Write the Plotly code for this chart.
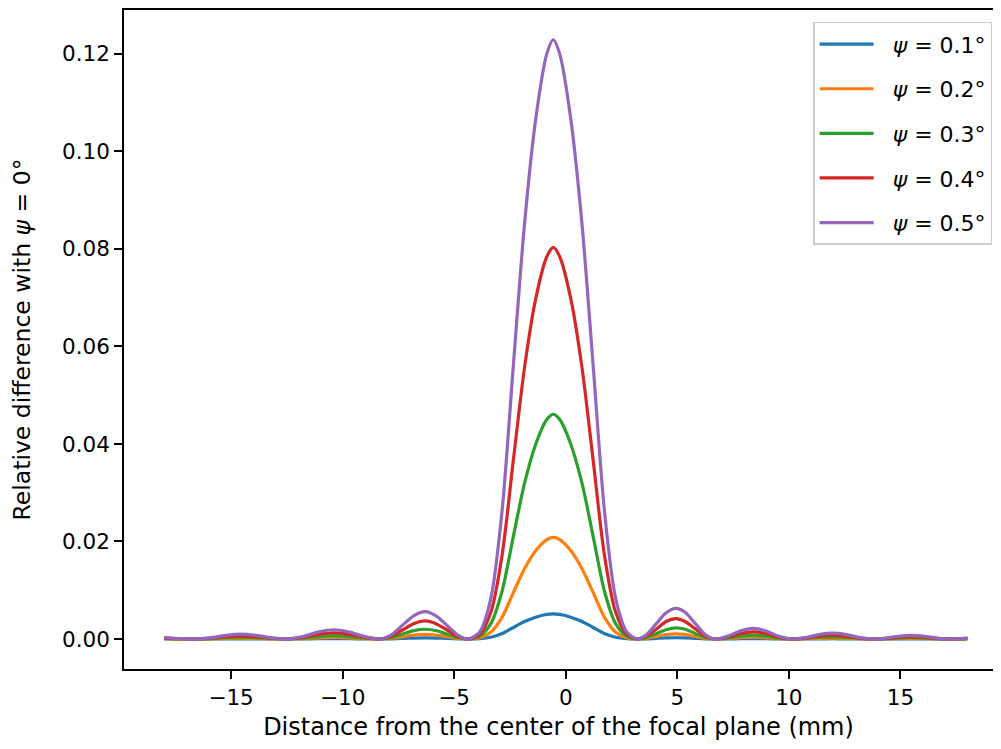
import plotly.graph_objects as go

# Distance from the center of the focal plane (mm)
x_mm = [
    -18.0, -17.3, -16.6,
    -15.92, -15.23, -14.55, -13.87, -13.18, -12.5,
    -11.8, -11.1, -10.4, -9.7, -9.0, -8.3,
    -7.8, -7.3, -6.8, -6.3, -5.8, -5.3, -4.8, -4.35,
    -3.85, -3.35, -2.85, -2.35, -1.85, -1.35, -0.85, -0.56, -0.27, 0.23, 0.73,
    1.23, 1.73, 2.23, 2.73, 3.2,
    3.6, 4.05, 4.5, 4.93, 5.35, 5.8, 6.25, 6.67,
    7.25, 7.82, 8.4, 8.98, 9.55, 10.13,
    10.74, 11.35, 11.97, 12.58, 13.19, 13.8,
    14.37, 14.93, 15.5, 16.07, 16.63, 17.2,
    18.0,
]

psi_01 = [
    0.00001, 0.0, 0.0,
    0.00001, 0.00003, 0.00004, 0.00003, 0.00001, 0.0,
    0.00002, 0.00006, 0.00008, 0.00006, 0.00002, 0.0,
    0.00004, 0.00012, 0.0002, 0.00024, 0.0002, 0.00011, 0.00003, 0.0,
    0.00006, 0.00036, 0.00112, 0.00236, 0.00358, 0.00448, 0.00505, 0.00517, 0.00505, 0.00448, 0.00358,
    0.00236, 0.00112, 0.00036, 0.00006, 0.0,
    0.00003, 0.00013, 0.00023, 0.00026, 0.00023, 0.00013, 0.00004, 0.0,
    0.00002, 0.00007, 0.00009, 0.00007, 0.00002, 0.0,
    0.00001, 0.00004, 0.00005, 0.00004, 0.00001, 0.0,
    0.00001, 0.00002, 0.00003, 0.00002, 0.00001, 0.0,
    0.00001,
]

psi_02 = [
    0.00005, 0.00002, 0.0,
    0.00004, 0.00013, 0.00017, 0.00013, 0.00004, 0.0,
    0.00008, 0.00024, 0.00032, 0.00024, 0.00008, 0.0,
    0.00015, 0.00049, 0.00082, 0.00095, 0.0008, 0.00046, 0.00012, 0.0,
    0.00025, 0.00144, 0.0045, 0.0095, 0.0144, 0.0181, 0.0204, 0.02085, 0.0204, 0.0181, 0.0144,
    0.0095, 0.0045, 0.00144, 0.00025, 0.0,
    0.00014, 0.00053, 0.00092, 0.00107, 0.00094, 0.00054, 0.00015, 0.0,
    0.00009, 0.00028, 0.00037, 0.00028, 0.00009, 0.0,
    0.00005, 0.00015, 0.0002, 0.00015, 0.00005, 0.0,
    0.00003, 0.0001, 0.00013, 0.0001, 0.00003, 0.0,
    0.00003,
]

psi_03 = [
    0.00011, 0.00004, 0.0,
    0.00009, 0.00027, 0.00036, 0.00027, 0.00009, 0.0,
    0.00017, 0.00051, 0.00068, 0.00051, 0.00017, 0.0,
    0.00032, 0.00104, 0.00173, 0.0020, 0.0017, 0.00097, 0.00025, 0.0,
    0.0006, 0.0032, 0.0099, 0.0210, 0.0319, 0.0399, 0.0450, 0.0461, 0.0450, 0.0399, 0.0319,
    0.0210, 0.0099, 0.0032, 0.0006, 0.0,
    0.00029, 0.0011, 0.0019, 0.0023, 0.0020, 0.00115, 0.00032, 0.0,
    0.0002, 0.0006, 0.0008, 0.0006, 0.0002, 0.0,
    0.00011, 0.00032, 0.00043, 0.00032, 0.00011, 0.0,
    0.00007, 0.0002, 0.00027, 0.0002, 0.00007, 0.0,
    0.00007,
]

psi_04 = [
    0.0002, 0.00007, 0.0,
    0.00017, 0.0005, 0.00066, 0.0005, 0.00017, 0.0,
    0.00032, 0.00094, 0.00125, 0.00094, 0.00032, 0.0,
    0.0006, 0.0019, 0.0032, 0.0037, 0.0031, 0.0018, 0.00046, 0.0,
    0.0010, 0.0056, 0.0173, 0.0366, 0.0556, 0.0697, 0.0784, 0.0803, 0.0784, 0.0697, 0.0556,
    0.0366, 0.0173, 0.0056, 0.0010, 0.0,
    0.00053, 0.0020, 0.0036, 0.0042, 0.0036, 0.0021, 0.0006, 0.0,
    0.00036, 0.0011, 0.00145, 0.0011, 0.00036, 0.0,
    0.0002, 0.0006, 0.0008, 0.0006, 0.0002, 0.0,
    0.00013, 0.00037, 0.0005, 0.00037, 0.00013, 0.0,
    0.00013,
]

psi_05 = [
    0.0003, 0.0001, 0.0,
    0.00025, 0.00075, 0.0010, 0.00075, 0.00025, 0.0,
    0.00048, 0.00143, 0.0019, 0.00143, 0.00048, 0.0,
    0.0009, 0.0029, 0.0048, 0.0056, 0.0047, 0.0027, 0.0007, 0.0,
    0.0015, 0.0085, 0.0265, 0.0560, 0.0850, 0.1065, 0.1200, 0.1229, 0.1200, 0.1065, 0.0850,
    0.0560, 0.0265, 0.0085, 0.0015, 0.0,
    0.0008, 0.0031, 0.0054, 0.0063, 0.0055, 0.0032, 0.0009, 0.0,
    0.00055, 0.00165, 0.0022, 0.00165, 0.00055, 0.0,
    0.0003, 0.0009, 0.0012, 0.0009, 0.0003, 0.0,
    0.0002, 0.00056, 0.00075, 0.00056, 0.0002, 0.0,
    0.0002,
]

series_names = ["&nbsp;&nbsp;<i>ψ</i> = 0.1°", "&nbsp;&nbsp;<i>ψ</i> = 0.2°",
                "&nbsp;&nbsp;<i>ψ</i> = 0.3°", "&nbsp;&nbsp;<i>ψ</i> = 0.4°",
                "&nbsp;&nbsp;<i>ψ</i> = 0.5°"]
series_values = [psi_01, psi_02, psi_03, psi_04, psi_05]
colors = ["#1f77b4", "#ff7f0e", "#2ca02c", "#d62728", "#9467bd"]

x_ticks = [-15, -10, -5, 0, 5, 10, 15]
y_ticks = [0.0, 0.02, 0.04, 0.06, 0.08, 0.10, 0.12]

FONT = "DejaVu Sans"
FS = 21.5
FS_LABEL = 24

fig = go.Figure()
for i, (name, vals, col) in enumerate(zip(series_names, series_values, colors)):
    fig.add_trace(go.Scatter(
        x=x_mm, y=vals, mode="lines", name=name,
        line=dict(color=col, width=3.2, shape="spline", smoothing=0.8),
        legendgroup=f"g{i}",
    ))

fig.update_layout(
    width=985, height=733,
    margin=dict(l=116, r=0, t=0, b=72),
    paper_bgcolor="white", plot_bgcolor="white",
    font=dict(family=FONT, size=FS, color="black"),
    showlegend=True,
    legend=dict(
        x=0.999, xanchor="right", y=0.982, yanchor="top",
        bgcolor="rgba(255,255,255,0.8)", bordercolor="#cccccc", borderwidth=1.5,
        font=dict(family=FONT, size=22, color="black"),
        tracegroupgap=13, itemwidth=54,
    ),
    xaxis=dict(
        range=[-19.8, 19.15], tickmode="array", tickvals=x_ticks,
        ticktext=[("−" + str(abs(v))) if v < 0 else str(v) for v in x_ticks],
        ticks="outside", ticklen=8, tickwidth=1.7, tickcolor="black",
        showline=True, linecolor="black", linewidth=1.7, mirror=True,
        showgrid=False, zeroline=False,
        title=dict(text="Distance from the center of the focal plane (mm)",
                   font=dict(family=FONT, size=FS_LABEL), standoff=12),
    ),
    yaxis=dict(
        range=[-0.00615, 0.129], tickmode="array", tickvals=y_ticks,
        ticktext=[f"{v:.2f}" for v in y_ticks],
        ticks="outside", ticklen=8, tickwidth=1.7, tickcolor="black",
        showline=True, linecolor="black", linewidth=1.7, mirror=False,
        showgrid=False, zeroline=False,
        title=dict(text="Relative difference with <i>ψ</i> = 0°",
                   font=dict(family=FONT, size=23.5), standoff=30),
    ),
)

fig.write_html("out.html")
